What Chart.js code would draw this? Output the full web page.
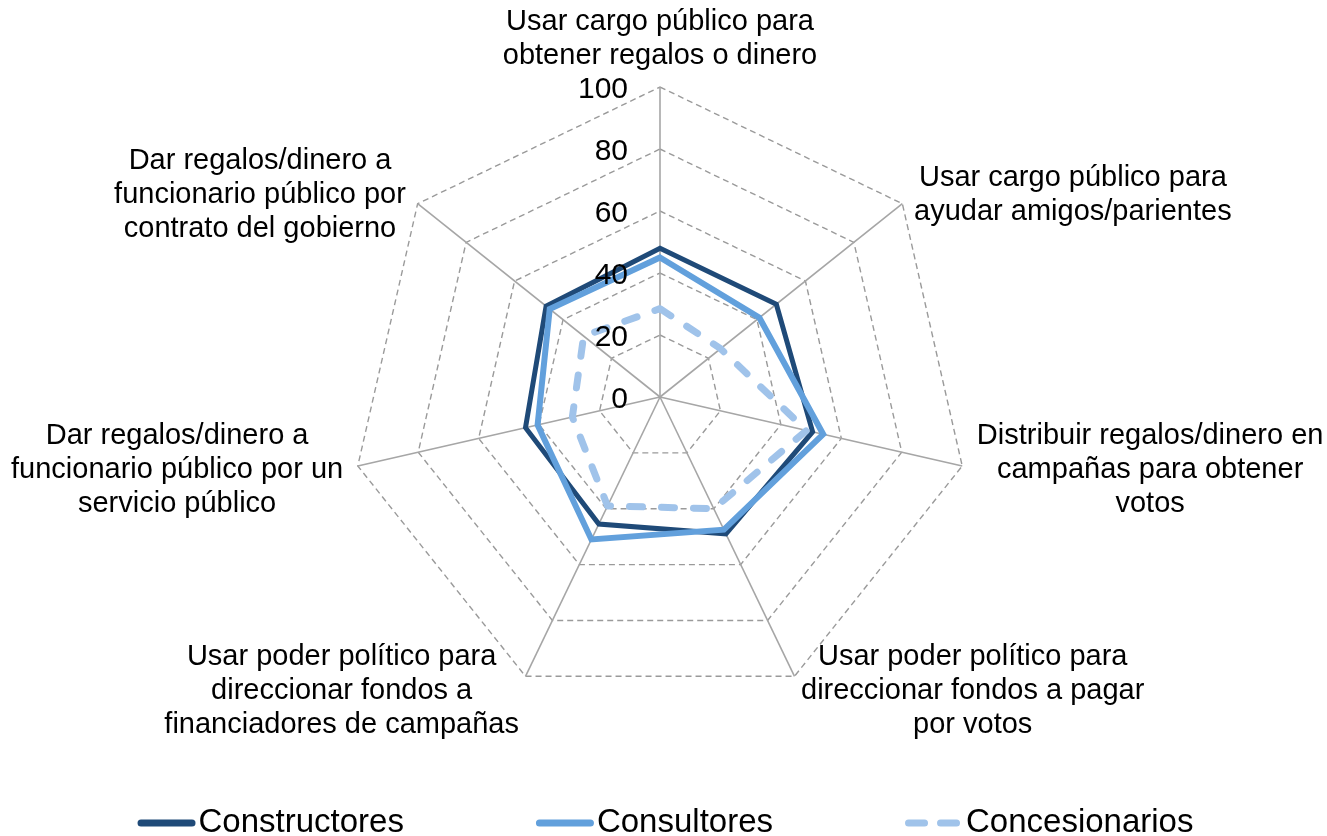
<!DOCTYPE html>
<html>
<head>
<meta charset="utf-8">
<script src="https://cdn.jsdelivr.net/npm/chart.js@4"></script>
<style>
  html, body { margin: 0; padding: 0; background: #fff; }
  #wrap { width: 1327px; height: 836px; }
</style>
</head>
<body>
<div id="wrap"><canvas id="radarChart" width="1327" height="836"></canvas></div>
<script>
// categories (one array of lines per axis)
var categories = [
  ['Usar cargo público para', 'obtener regalos o dinero'],
  ['Usar cargo público para', 'ayudar amigos/parientes'],
  ['Distribuir regalos/dinero en', 'campañas para obtener', 'votos'],
  ['Usar poder político para', 'direccionar fondos a pagar', 'por votos'],
  ['Usar poder político para', 'direccionar fondos a', 'financiadores de campañas'],
  ['Dar regalos/dinero a', 'funcionario público por un', 'servicio público'],
  ['Dar regalos/dinero a', 'funcionario público por', 'contrato del gobierno']
];

var seriesNames = ['Constructores', 'Consultores', 'Concesionarios'];
var constructores = [48, 48, 50.5, 49, 45.5, 44.5, 47];
var consultores = [45, 41, 54, 47.5, 51, 40.5, 45.5];
var concesionarios = [28.5, 25, 48.5, 40, 39, 29, 31.5];

var scaleMin = 0;
var scaleMax = 100;
var tickStep = 20;

var FONT = '"Liberation Sans", Arial, sans-serif';

// draws tick labels, category labels and the legend
var overlay = {
  id: 'overlay',
  afterDraw: function (chart) {
    var ctx = chart.ctx;
    var r = chart.scales.r;
    ctx.save();
    ctx.fillStyle = '#000';

    // tick labels, left of the vertical axis
    ctx.font = '30px ' + FONT;
    ctx.textAlign = 'right';
    ctx.textBaseline = 'middle';
    r.ticks.forEach(function (t) {
      var y = r.yCenter - r.getDistanceFromCenterForValue(t.value);
      ctx.fillText(t.label, r.xCenter - 32, y + 3);
    });

    // category labels, lines centred in their block
    var lh = 34;
    ctx.font = '29px ' + FONT;
    ctx.textAlign = 'center';
    categories.forEach(function (lines, i) {
      var p = r.getPointPosition(i, r.drawingArea + 15);
      var a = r.getIndexAngle(i);
      var w = Math.max.apply(null, lines.map(function (l) { return ctx.measureText(l).width; }));
      var h = lines.length * lh;
      var s = Math.sin(a), c = Math.cos(a);
      var cx = p.x;
      if (s > 0.1) cx = p.x + w / 2;
      else if (s < -0.1) cx = p.x - w / 2;
      var top = p.y - h / 2;
      if (c > 0.95) top = p.y - h;
      lines.forEach(function (l, k) {
        ctx.fillText(l, cx, top + lh * (k + 0.5) + 1);
      });
    });

    // legend
    ctx.font = '33px ' + FONT;
    ctx.textAlign = 'left';
    var sets = chart.data.datasets;
    var gap = 132;
    var widths = sets.map(function (d) { return 61 + ctx.measureText(d.label).width; });
    var total = widths.reduce(function (a, b) { return a + b; }, 0) + gap * (sets.length - 1);
    var x = chart.width / 2 + 2 - total / 2;
    var ly = 823;
    sets.forEach(function (d, i) {
      ctx.beginPath();
      ctx.strokeStyle = d.borderColor;
      ctx.lineWidth = 7;
      ctx.lineCap = 'round';
      ctx.setLineDash(d.borderDash ? [16, 16] : []);
      ctx.moveTo(x + 3.5, ly);
      ctx.lineTo(x + 54.5, ly);
      ctx.stroke();
      ctx.setLineDash([]);
      ctx.fillStyle = '#000';
      ctx.fillText(d.label, x + 61, ly);
      x += widths[i] + gap;
    });
    ctx.restore();
  }
};

var ctx_radar = document.getElementById('radarChart').getContext('2d');

var myRadarChart = new Chart(ctx_radar, {
  type: 'radar',
  data: {
    labels: categories,
    datasets: [
      {
        label: seriesNames[0],
        data: constructores,
        borderColor: '#1F4A78',
        backgroundColor: 'rgba(0,0,0,0)',
        borderWidth: 5,
        borderJoinStyle: 'miter',
        order: 3
      },
      {
        label: seriesNames[1],
        data: consultores,
        borderColor: '#62A0DC',
        backgroundColor: 'rgba(0,0,0,0)',
        borderWidth: 6,
        borderJoinStyle: 'miter',
        order: 2
      },
      {
        label: seriesNames[2],
        data: concesionarios,
        borderColor: '#A0C3EA',
        backgroundColor: 'rgba(0,0,0,0)',
        borderWidth: 7,
        borderDash: [13, 19],
        borderCapStyle: 'round',
        borderJoinStyle: 'round',
        order: 1
      }
    ]
  },
  options: {
    responsive: false,
    animation: false,
    layout: {
      padding: {top: 87, bottom: 129, left: 0, right: 7}
    },
    elements: {
      point: {radius: 0, hoverRadius: 0},
      line: {tension: 0, fill: false}
    },
    plugins: {
      legend: {display: false},
      tooltip: {enabled: false}
    },
    scales: {
      r: {
        min: scaleMin,
        max: scaleMax,
        beginAtZero: true,
        ticks: {stepSize: tickStep, display: false},
        pointLabels: {display: false},
        grid: {color: '#9A9A9A', lineWidth: 1.4, circular: false},
        border: {dash: [6, 4]},
        angleLines: {color: '#A6A6A6', lineWidth: 1.6}
      }
    }
  },
  plugins: [overlay]
});
</script>
</body>
</html>
